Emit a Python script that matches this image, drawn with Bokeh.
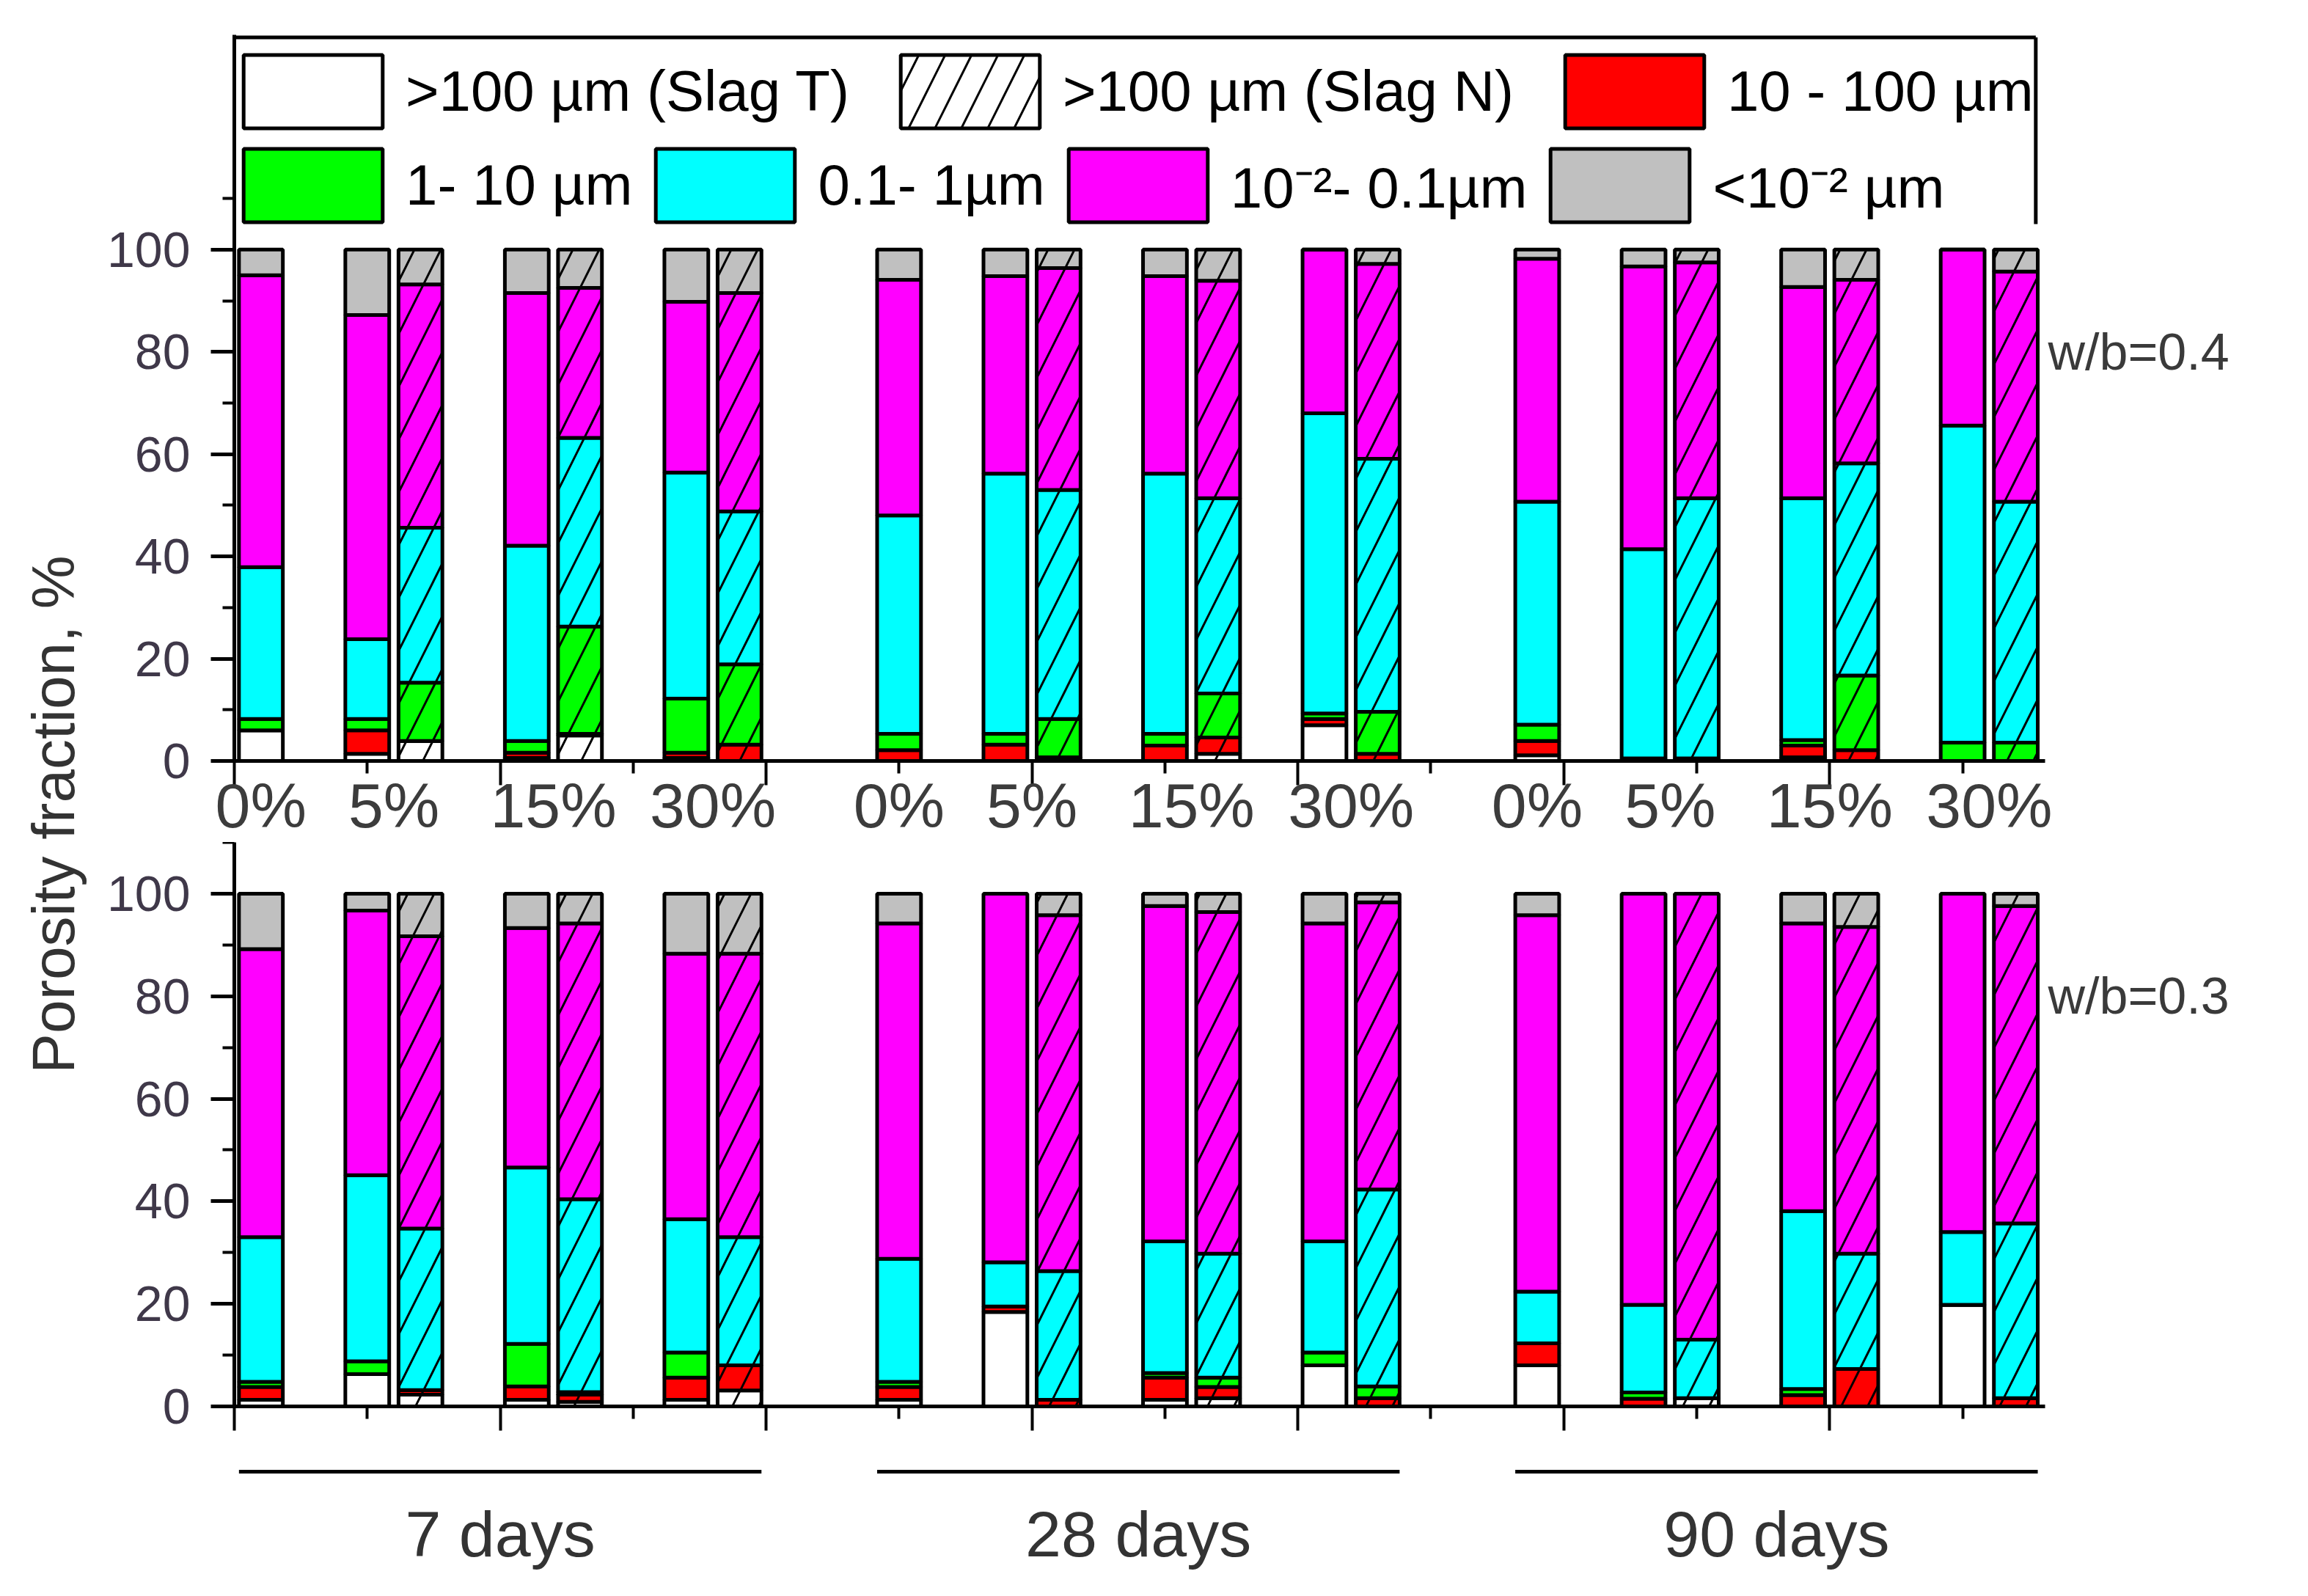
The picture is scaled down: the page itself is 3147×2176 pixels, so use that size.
import math
from bokeh.plotting import figure
from bokeh.models import (ColumnDataSource, Range1d, FixedTicker, LinearAxis, Legend,
                          LegendItem, CustomJSTickFormatter)
from bokeh.layouts import column, row
from bokeh.embed import file_html
from bokeh.resources import INLINE
from bokeh.core.properties import value

# ---------------- data ----------------
ages = ["7 days", "28 days", "90 days"]
levels = ["0%", "5%", "15%", "30%"]
# bars inside each age group (slag T = plain, slag N = hatched)
bar_level = ["0%", "5%", "5%", "15%", "15%", "30%", "30%"]
bar_slag = ["T", "T", "N", "T", "N", "T", "N"]
panel_labels = ["w/b=0.4", "w/b=0.3"]
y_title = "Porosity fraction, %"

class_keys = ["gt100", "r10_100", "r1_10", "r01_1", "r001_01", "lt001"]
class_colors = ["#FFFFFF", "#FF0000", "#00FF00", "#00FFFF", "#FF00FF", "#C0C0C0"]
legend_row1 = [">100 µm (Slag T)", ">100 µm (Slag N)", "10 - 100 µm"]
legend_row2 = ["1- 10 µm", "0.1- 1µm", "10⁻²- 0.1µm", "<10⁻² µm"]

# values (%) per bar: 7 bars for 7 days, 7 for 28 days, 7 for 90 days
# w/b = 0.4
wb04_gt100 = [6.0, 1.4, 3.9, 0.6, 5.0, 0.6, 0.0,
              0.0, 0.0, 0.0, 0.0, 1.4, 7.0, 0.0,
              1.1, 0.0, 0.0, 0.7, 0.0, 0.0, 0.0]
wb04_r10_100 = [0.0, 4.6, 0.0, 1.0, 0.3, 1.0, 3.2,
                2.1, 3.2, 0.7, 3.0, 3.2, 1.2, 1.4,
                2.8, 0.0, 0.0, 2.3, 2.1, 0.0, 0.0]
wb04_r1_10 = [2.2, 2.2, 11.4, 2.3, 21.0, 10.6, 15.7,
              3.2, 2.1, 7.5, 2.3, 8.6, 1.1, 8.2,
              3.2, 0.5, 0.5, 1.1, 14.6, 3.6, 3.6]
wb04_r01_1 = [29.7, 15.6, 30.3, 38.2, 36.9, 44.2, 29.9,
              42.7, 50.9, 44.8, 50.9, 38.2, 58.7, 49.5,
              43.6, 40.9, 50.9, 47.3, 41.5, 62.0, 47.1]
wb04_r001_01 = [57.1, 63.4, 47.6, 49.4, 29.3, 33.4, 42.7,
                46.1, 38.6, 43.4, 38.6, 42.5, 32.0, 38.1,
                47.5, 55.3, 46.1, 41.3, 35.9, 34.4, 45.0]
wb04_lt001 = [5.0, 12.8, 6.8, 8.5, 7.5, 10.2, 8.5,
              5.9, 5.2, 3.6, 5.2, 6.1, 0.0, 2.8,
              1.8, 3.3, 2.5, 7.3, 5.9, 0.0, 4.3]
# w/b = 0.3
wb03_gt100 = [1.3, 6.3, 2.3, 1.3, 0.9, 1.3, 3.1,
              1.3, 18.4, 0.0, 1.3, 1.6, 8.0, 0.0,
              8.0, 0.0, 1.6, 0.0, 0.0, 19.8, 0.0]
wb03_r10_100 = [2.5, 0.0, 0.9, 2.6, 1.4, 4.3, 4.9,
                2.5, 1.1, 1.3, 4.3, 2.2, 0.0, 1.6,
                4.3, 1.5, 0.0, 2.2, 7.3, 0.0, 1.6]
wb03_r1_10 = [1.0, 2.5, 0.0, 8.3, 0.5, 4.9, 0.0,
              1.0, 0.0, 0.0, 0.9, 1.8, 2.5, 2.3,
              0.0, 1.2, 0.0, 1.2, 0.0, 0.0, 0.0]
wb03_r01_1 = [28.2, 36.3, 31.5, 34.4, 37.6, 26.0, 25.0,
              24.0, 8.6, 25.1, 25.7, 24.2, 21.7, 38.4,
              10.1, 17.1, 11.4, 34.7, 22.5, 14.2, 34.1]
wb03_r001_01 = [56.2, 51.6, 57.0, 46.7, 53.8, 51.8, 55.3,
                65.4, 71.9, 69.4, 65.4, 66.6, 62.0, 56.0,
                73.4, 80.2, 87.0, 56.1, 63.7, 66.0, 61.9]
wb03_lt001 = [10.8, 3.3, 8.3, 6.7, 5.8, 11.7, 11.7,
              5.8, 0.0, 4.2, 2.4, 3.6, 5.8, 1.7,
              4.2, 0.0, 0.0, 5.8, 6.5, 0.0, 2.4]

panels = [
    [wb04_gt100, wb04_r10_100, wb04_r1_10, wb04_r01_1, wb04_r001_01, wb04_lt001],
    [wb03_gt100, wb03_r10_100, wb03_r1_10, wb03_r01_1, wb03_r001_01, wb03_lt001],
]

# ---------------- layout constants ----------------
PPU = 181.3            # px per x unit
X_END = 13.62
FW = round(X_END * PPU)
BW = 0.33
LEFT_B = 179
RIGHT_B = 300
FONT = "Liberation Sans"

# x positions of bars
bar_x, bar_age = [], []
for ai, age in enumerate(ages):
    g0 = 0.2 + ai * 4.8
    for lvl, slag in zip(bar_level, bar_slag):
        li = levels.index(lvl)
        off = 0.0 if li == 0 else 0.8 + (li - 1) * 1.2
        if slag == "N":
            off += 0.4
        bar_x.append(g0 + off)
        bar_age.append(age)
bar_slag_all = bar_slag * len(ages)
bar_level_all = bar_level * len(ages)

# label positions ("0%", "5%", ...) = mean of bar positions of each level/age
lab_pos, lab_txt = [], []
for age in ages:
    for lvl in levels:
        xs = [x for x, a, l in zip(bar_x, bar_age, bar_level_all) if a == age and l == lvl]
        lab_pos.append(sum(xs) / len(xs))
        lab_txt.append(lvl)


def style_common(p):
    p.grid.visible = False
    p.outline_line_color = None
    p.background_fill_color = "white"
    p.border_fill_color = "white"


def make_panel(vals, y_end, frame_h, right_label, top_panel):
    p = figure(frame_width=FW, frame_height=frame_h,
               x_range=Range1d(0, X_END), y_range=Range1d(0, y_end),
               output_backend="svg", toolbar_location=None,
               min_border_left=LEFT_B, min_border_right=RIGHT_B,
               min_border_top=47 if top_panel else 0,
               min_border_bottom=0 if top_panel else 50)
    style_common(p)

    data = {k: v for k, v in zip(class_keys, vals)}
    tidx = [i for i, s in enumerate(bar_slag_all) if s == "T"]
    nidx = [i for i, s in enumerate(bar_slag_all) if s == "N"]
    srcT = ColumnDataSource({"x": [bar_x[i] for i in tidx],
                             **{k: [data[k][i] for i in tidx] for k in class_keys}})
    srcN = ColumnDataSource({"x": [bar_x[i] for i in nidx],
                             **{k: [data[k][i] for i in nidx] for k in class_keys}})
    rT = p.vbar_stack(class_keys, x="x", width=BW, source=srcT,
                      fill_color=class_colors, line_color="black", line_width=5)
    rN = p.vbar_stack(class_keys, x="x", width=BW, source=srcN,
                      fill_color=class_colors, line_color="black", line_width=5,
                      hatch_pattern="/", hatch_color="black", hatch_weight=3,
                      hatch_scale=72)

    # y axis
    yax = p.yaxis[0]
    yax.ticker = FixedTicker(ticks=[0, 20, 40, 60, 80, 100],
                             minor_ticks=[10, 30, 50, 70, 90, 110])
    yax.axis_line_width = 5
    yax.major_tick_line_width = 5
    yax.minor_tick_line_width = 4
    yax.major_tick_out = 32
    yax.major_tick_in = 0
    yax.minor_tick_out = 16
    yax.minor_tick_in = 0
    yax.major_label_standoff = 28
    yax.major_label_text_font = FONT
    yax.major_label_text_font_size = "68px"
    yax.major_label_text_color = "#3f3849"

    # x axis: ticks only
    xax = p.xaxis[0]
    xax.ticker = FixedTicker(ticks=[0, 2, 4, 6, 8, 10, 12],
                             minor_ticks=[1, 3, 5, 7, 9, 11, 13])
    xax.formatter = CustomJSTickFormatter(code="return ''")
    xax.axis_line_width = 5
    xax.major_tick_line_width = 4
    xax.minor_tick_line_width = 4
    xax.major_tick_out = 33
    xax.major_tick_in = 0
    xax.minor_tick_out = 17
    xax.minor_tick_in = 0
    xax.major_label_text_font_size = "1px"
    xax.major_label_standoff = 0

    # right-side panel label
    rax = LinearAxis(ticker=FixedTicker(ticks=[80]),
                     formatter=CustomJSTickFormatter(args=dict(t=right_label), code="return t"),
                     axis_line_color=None, major_tick_line_color=None,
                     minor_tick_line_color=None, major_tick_out=0, major_tick_in=0,
                     minor_tick_out=0, minor_tick_in=0, major_label_standoff=4,
                     major_label_text_font=FONT, major_label_text_font_size="70px",
                     major_label_text_color="#3a3a3a")
    p.add_layout(rax, "right")

    if top_panel:
        lax = LinearAxis(ticker=FixedTicker(ticks=lab_pos),
                         formatter=CustomJSTickFormatter(
                             args=dict(pos=lab_pos, lab=lab_txt),
                             code="""let b=0, d=1e9;
for (let i=0;i<pos.length;i++){const e=Math.abs(pos[i]-tick); if(e<d){d=e;b=i}}
return lab[b];"""),
                         axis_line_color=None, major_tick_line_color=None,
                         minor_tick_line_color=None, major_tick_out=0, major_tick_in=0,
                         minor_tick_out=0, minor_tick_in=0, major_label_standoff=-21,
                         major_label_text_font=FONT, major_label_text_font_size="86px",
                         major_label_text_color="#3c3c3c")
        p.add_layout(lax, "below")

        # legend frame (top line + right edge)
        box_right = 13.55
        p.segment(x0=[0, box_right], y0=[141.5, 105.0], x1=[box_right, box_right],
                  y1=[141.5, 141.5], line_color="black", line_width=5)

        common = dict(orientation="horizontal", glyph_width=237, glyph_height=125,
                      label_standoff=8, padding=0, margin=0, border_line_color=None,
                      background_fill_alpha=0, label_text_font=FONT,
                      label_text_font_size="78px", label_text_color="black")
        leg1 = Legend(items=[LegendItem(label=legend_row1[0], renderers=[rT[0]]),
                             LegendItem(label=legend_row1[1], renderers=[rN[0]]),
                             LegendItem(label=legend_row1[2], renderers=[rT[1]])],
                      location=(-11, 850), spacing=46, **common)
        leg2 = Legend(items=[LegendItem(label=legend_row2[0], renderers=[rT[2]]),
                             LegendItem(label=legend_row2[1], renderers=[rT[3]]),
                             LegendItem(label=legend_row2[2], renderers=[rT[4]]),
                             LegendItem(label=legend_row2[3], renderers=[rT[5]])],
                      location=(-11, 722), spacing=8, **common)
        p.add_layout(leg1)
        p.add_layout(leg2)
    return p


top = make_panel(panels[0], 142, 990, panel_labels[0], True)
bottom = make_panel(panels[1], 110, 769, panel_labels[1], False)
bottom.x_range = top.x_range

# ---- age labels with lines ----
DAYS_H = 190
days = figure(frame_width=FW, frame_height=DAYS_H, x_range=top.x_range,
              y_range=Range1d(DAYS_H, 0), x_axis_location=None, y_axis_location=None,
              min_border_left=LEFT_B, min_border_right=RIGHT_B, min_border_top=0,
              min_border_bottom=0, output_backend="svg", toolbar_location=None)
style_common(days)
seg_x0, seg_x1, seg_mid = [], [], []
for age in ages:
    xs = [x for x, a in zip(bar_x, bar_age) if a == age]
    seg_x0.append(min(xs) - BW / 2)
    seg_x1.append(max(xs) + BW / 2)
    seg_mid.append((min(xs) + max(xs)) / 2)
days.segment(x0=seg_x0, y0=[39] * 3, x1=seg_x1, y1=[39] * 3, line_color="black", line_width=5)
days.text(x=seg_mid, y=[124] * 3, text=ages, text_align="center", text_baseline="middle",
          text_font=value(FONT), text_font_size="88px", text_color="#333333")

# ---- y-axis title (axis label of a narrow helper figure) ----
ttl = figure(frame_width=1, frame_height=2100, x_range=Range1d(0, 1),
             y_range=Range1d(0, 1), x_axis_location=None, y_axis_location="left",
             min_border_left=139, min_border_right=0, min_border_top=60,
             min_border_bottom=0, output_backend="svg", toolbar_location=None)
style_common(ttl)
tax = ttl.yaxis[0]
tax.ticker = FixedTicker(ticks=[])
tax.axis_line_color = None
tax.major_tick_line_color = None
tax.minor_tick_line_color = None
tax.major_tick_out = 0
tax.minor_tick_out = 0
tax.major_label_standoff = 0
tax.major_label_text_font_size = "1px"
tax.axis_label = y_title
tax.axis_label_text_font = FONT
tax.axis_label_text_font_style = "normal"
tax.axis_label_text_font_size = "82px"
tax.axis_label_text_color = "#333333"
tax.axis_label_standoff = 22

layout = row(ttl, column(top, bottom, days))
open("out.html", "w").write(file_html(layout, INLINE))
